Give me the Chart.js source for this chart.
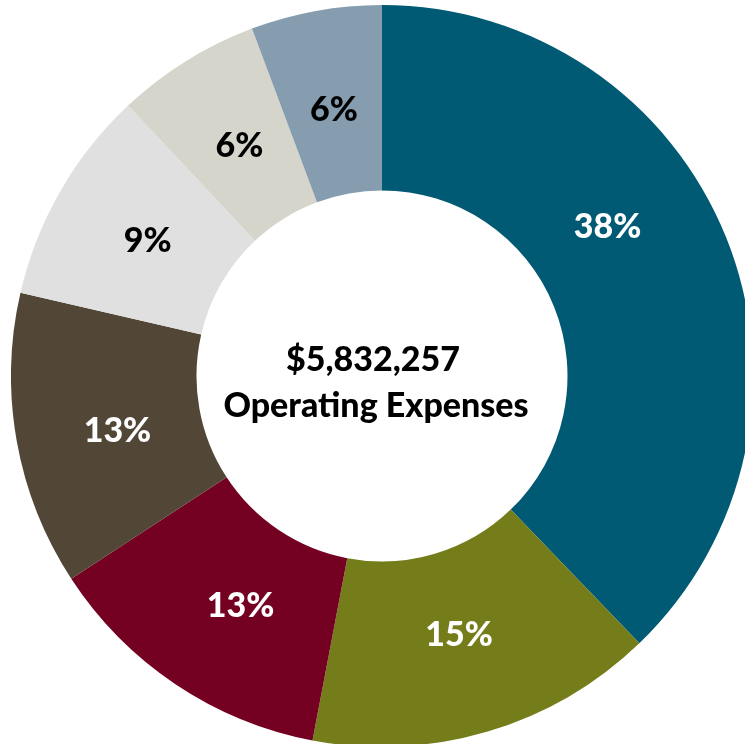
<!DOCTYPE html>
<html>
<head>
<meta charset="utf-8">
<script src="https://cdn.jsdelivr.net/npm/chart.js@4.4.1/dist/chart.umd.min.js"></script>
<style>
  html, body { margin: 0; padding: 0; background: #fff; overflow: hidden; width: 745px; height: 744px; }
  #wrap { position: absolute; left: 11px; top: 5px; width: 742px; height: 742px; }
</style>
</head>
<body>
<div id="wrap"><canvas id="chart"></canvas></div>
<script>
// slices, clockwise from 12 o'clock
const categories = ['Slice 1', 'Slice 2', 'Slice 3', 'Slice 4', 'Slice 5', 'Slice 6', 'Slice 7'];
const shares = [37.8, 15.2, 12.8, 12.8, 9.4, 6.3, 5.7];
const sliceColors = ['#005a74', '#757d1a', '#740022', '#524737', '#e0e0e0', '#d6d5cc', '#859dae'];
const labelColors = ['#fff', '#fff', '#fff', '#fff', '#000', '#000', '#000'];
const centerLines = ['$5,832,257', 'Operating Expenses'];

const FONT = '900 34px Lato, "Open Sans", sans-serif';

// percent labels inside each slice
const sliceLabels = {
    id: 'sliceLabels',
    afterDatasetsDraw(chart) {
        const ctx = chart.ctx;
        const meta = chart.getDatasetMeta(0);
        const total = shares.reduce((a, b) => a + b, 0);
        ctx.save();
        ctx.font = FONT;
        ctx.textAlign = 'center';
        ctx.textBaseline = 'middle';
        meta.data.forEach((arc, i) => {
            const p = arc.getProps(['x', 'y', 'startAngle', 'endAngle', 'innerRadius', 'outerRadius'], true);
            let mid = (p.startAngle + p.endAngle) / 2;
            if (i === 0) mid -= 0.2; // big slice label sits a bit higher
            if (i === 2) mid -= 0.04;
            if (i === 3) mid -= 0.03;
            const r = (p.innerRadius + p.outerRadius) / 2 - 8;
            ctx.fillStyle = labelColors[i];
            ctx.fillText(Math.round(shares[i] / total * 100) + '%', p.x + Math.cos(mid) * r, p.y + Math.sin(mid) * r);
        });
        ctx.restore();
    }
};

const centerText = {
    id: 'centerText',
    afterDraw(chart) {
        const ctx = chart.ctx;
        const arc = chart.getDatasetMeta(0).data[0];
        ctx.save();
        ctx.font = FONT;
        ctx.fillStyle = '#000';
        ctx.textAlign = 'center';
        ctx.textBaseline = 'middle';
        ctx.fillText(centerLines[0], arc.x - 9, arc.y - 16);
        ctx.fillText(centerLines[1], arc.x - 6, arc.y + 30);
        ctx.restore();
    }
};

new Chart(document.getElementById('chart').getContext('2d'), {
    type: 'doughnut',
    data: {
        labels: categories,
        datasets: [{
            data: shares,
            backgroundColor: sliceColors,
            borderWidth: 0
        }]
    },
    options: {
        responsive: true,
        maintainAspectRatio: false,
        animation: false,
        cutout: '50%',
        layout: { padding: 0 },
        plugins: {
            legend: { display: false },
            tooltip: { enabled: false }
        }
    },
    plugins: [sliceLabels, centerText]
});
</script>
</body>
</html>
